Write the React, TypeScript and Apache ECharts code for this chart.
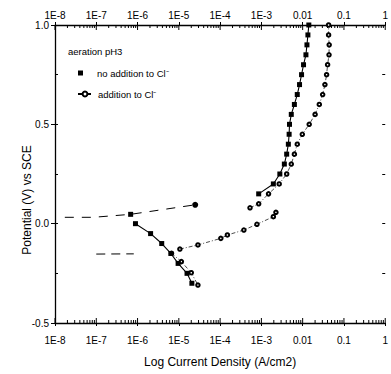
import React, { useEffect, useRef } from 'react';
import * as echarts from 'echarts';

// ---- texts / ticks ----
const xTickLabels = ['1E-8', '1E-7', '1E-6', '1E-5', '1E-4', '1E-3', '0.01', '0.1', '1'];
const yTickLabels: Record<string, string> = { '-0.5': '-0.5', '0': '0.0', '0.5': '0.5', '1': '1.0' };
const seriesNames = ['no addition to Cl⁻', 'addition to Cl⁻'];
const legendTitle = 'aeration pH3';
const xTitle = 'Log Current Density (A/cm2)';
const yTitle = 'Potential (V) vs SCE';

// ---- data: current density (A/cm2) and potential (V vs SCE) ----
// no addition to Cl- (filled squares)
const noAddAnodicI = [8.6e-4, 1.95e-3, 2.8e-3, 3.6e-3, 4.1e-3, 4.5e-3, 4.7e-3, 4.8e-3, 5.3e-3, 6.3e-3, 7.4e-3, 8.4e-3, 9.4e-3, 1.05e-2, 1.2e-2, 1.27e-2, 1.34e-2, 1.41e-2];
const noAddAnodicE = [0.15, 0.2, 0.25, 0.3, 0.35, 0.4, 0.45, 0.5, 0.55, 0.6, 0.65, 0.7, 0.75, 0.8, 0.85, 0.9, 0.95, 1.0];
const noAddCathodicI = [8.9e-7, 2.07e-6, 3.85e-6, 6.4e-6, 9.6e-6, 1.58e-5, 2.07e-5];
const noAddCathodicE = [0.0, -0.05, -0.1, -0.15, -0.2, -0.25, -0.3];
const noAddRestI = [1.73e-8, 8.5e-8, 6.8e-7, 2.49e-5];
const noAddRestE = [0.032, 0.032, 0.047, 0.095];

// addition to Cl- (open circles)
const addAnodicHighI = [5.3e-4, 8.6e-4, 1.49e-3, 2.7e-3, 4.1e-3, 5.3e-3, 6.3e-3, 7.4e-3, 9.8e-3, 1.44e-2, 2.0e-2, 2.53e-2, 3.05e-2, 3.46e-2, 3.8e-2, 4.02e-2, 4.35e-2, 4.39e-2, 4.25e-2, 4.25e-2];
const addAnodicHighE = [0.08, 0.1, 0.15, 0.2, 0.25, 0.3, 0.35, 0.4, 0.45, 0.5, 0.55, 0.6, 0.65, 0.7, 0.75, 0.8, 0.85, 0.9, 0.95, 1.0];
const addAnodicLowI = [1.06e-5, 2.9e-5, 1.04e-4, 1.5e-4, 3.76e-4, 7.8e-4, 1.95e-3, 2.25e-3];
const addAnodicLowE = [-0.128, -0.107, -0.074, -0.057, -0.032, -0.003, 0.035, 0.057];
const addCathodicI = [6.65e-6, 1.15e-5, 2.0e-5, 2.9e-5];
const addCathodicE = [-0.149, -0.191, -0.247, -0.309];
const addRestI = [1.0e-7, 8.1e-7];
const addRestE = [-0.153, -0.152];

const FONT = '"Liberation Sans", Arial, sans-serif';

const toPts = (I: number[], E: number[]) => I.map((v, k) => [Math.log10(v), E[k]]);

export default function App() {
  const ref = useRef<HTMLDivElement>(null);
  useEffect(() => {
    if (!ref.current) return;
    const chart = echarts.init(ref.current, undefined, { renderer: 'svg' });

    // log-axis tick decorations (positions inside each decade)
    const tickMarks: number[][] = [];
    for (let n = -8; n <= 0; n++) {
      tickMarks.push([n, 0, 5]);
      if (n < 0) for (let k = 2; k <= 9; k++) tickMarks.push([n + Math.log10(k), 0, 3]);
    }

    const blackLine = { color: '#000', width: 1.3 };
    const lineA = { color: '#000', width: 1.1 };
    const lineB = { color: '#000', width: 0.7, type: [4, 2, 1, 2] as any };
    const markB = { color: '#000', borderColor: '#000', borderWidth: 0.6 };

    const option: any = {
      animation: false,
      textStyle: { fontFamily: FONT, color: '#000' },
      grid: { left: 55, right: 0, top: 25, bottom: 51 },
      xAxis: [
        {
          type: 'value', position: 'bottom', min: -8, max: 0, interval: 1,
          axisLine: { show: true, onZero: false, lineStyle: blackLine },
          axisTick: { show: true, inside: false, length: 3, lineStyle: { color: '#000' } },
          axisLabel: { margin: 12, color: '#000', fontSize: 10, fontFamily: FONT, alignMaxLabel: 'center', formatter: (v: number) => xTickLabels[Math.round(v) + 8] },
          splitLine: { show: false },
          name: xTitle, nameLocation: 'middle', nameGap: 33,
          nameTextStyle: { fontSize: 12, color: '#000', fontFamily: FONT },
        },
        {
          type: 'value', position: 'top', min: -8, max: 0, interval: 1,
          axisLine: { show: true, onZero: false, lineStyle: blackLine },
          axisTick: { show: true, inside: false, length: 3, lineStyle: { color: '#000' } },
          axisLabel: { margin: 5, color: '#000', fontSize: 10, fontFamily: FONT, alignMaxLabel: 'center', formatter: (v: number) => xTickLabels[Math.round(v) + 8] },
          splitLine: { show: false },
        },
      ],
      yAxis: [
        {
          type: 'value', position: 'left', min: -0.5, max: 1, interval: 0.5,
          axisLine: { show: true, onZero: false, lineStyle: blackLine },
          axisTick: { show: true, inside: false, length: 4, lineStyle: { color: '#000' } },
          axisLabel: { margin: 6, color: '#000', fontSize: 10, fontFamily: FONT, formatter: (v: number) => yTickLabels[String(v)] ?? String(v) },
          splitLine: { show: false },
        },
        {
          type: 'value', position: 'right', min: -0.5, max: 1, interval: 0.25,
          axisLine: { show: false, onZero: false },
          axisTick: { show: true, inside: true, length: 3, lineStyle: { color: '#000' } },
          axisLabel: { show: false }, splitLine: { show: false },
        },
        {
          type: 'value', position: 'left', min: -0.5, max: 1, interval: 0.25,
          axisLine: { show: false, onZero: false },
          axisTick: { show: true, inside: true, length: 3, lineStyle: { color: '#000' } },
          axisLabel: { show: false }, splitLine: { show: false },
        },
      ],
      legend: [
        {
          data: [{ name: seriesNames[0], icon: 'rect' }],
          left: 78, top: 68, itemWidth: 5, itemHeight: 5, padding: 0,
          textStyle: { fontSize: 9.5, fontFamily: FONT, color: '#000', padding: [0, 0, 0, 9] },
        },
        {
          data: [seriesNames[1]],
          left: 77, top: 89, itemWidth: 14, itemHeight: 6, padding: 0,
          textStyle: { fontSize: 9.5, fontFamily: FONT, color: '#000', padding: [0, 0, 0, 1] },
        },
      ],
      graphic: [
        { type: 'text', left: 68, top: 46, style: { text: legendTitle, fontSize: 9.5, fontFamily: FONT, fill: '#000' } },
        { type: 'text', x: 27, y: 200, rotation: Math.PI / 2, style: { text: yTitle, fontSize: 12, fontFamily: FONT, fill: '#000', align: 'center', verticalAlign: 'middle' } },
      ],
      series: [
        {
          name: seriesNames[0], type: 'line', data: toPts(noAddAnodicI, noAddAnodicE),
          symbol: 'rect', symbolSize: 5, itemStyle: { color: '#000' }, lineStyle: lineA, z: 5,
        },
        {
          name: seriesNames[0], type: 'line', data: toPts(noAddCathodicI, noAddCathodicE),
          symbol: 'rect', symbolSize: 5, itemStyle: { color: '#000' }, lineStyle: lineA, z: 5,
        },
        {
          name: 'rest A', type: 'line',
          data: toPts(noAddRestI, noAddRestE).map((p, k) => ({
            value: p,
            symbol: k === 2 ? 'rect' : k === 3 ? 'circle' : 'none',
            symbolSize: k === 3 ? 6 : 5,
          })),
          itemStyle: { color: '#000' }, lineStyle: { color: '#000', width: 1, type: [9, 8] },
        },
        {
          name: seriesNames[1], type: 'line', data: toPts(addAnodicHighI, addAnodicHighE),
          symbol: 'emptyCircle', symbolSize: 3.5, itemStyle: markB, lineStyle: lineB,
        },
        {
          name: seriesNames[1], type: 'line', data: toPts(addAnodicLowI, addAnodicLowE),
          symbol: 'emptyCircle', symbolSize: 3.5, itemStyle: markB, lineStyle: lineB,
        },
        {
          name: seriesNames[1], type: 'line', data: toPts(addCathodicI, addCathodicE),
          symbol: 'emptyCircle', symbolSize: 3.5, itemStyle: markB, lineStyle: lineB,
        },
        {
          name: 'rest B', type: 'line', data: toPts(addRestI, addRestE), symbol: 'none',
          lineStyle: { color: '#000', width: 1, type: [9, 6] },
        },
        {
          name: 'log ticks', type: 'custom', xAxisIndex: 0, yAxisIndex: 0,
          data: tickMarks, encode: { x: 0, y: 1 }, silent: true, clip: false,
          renderItem: (params: any, api: any) => {
            const cs = params.coordSys;
            const px = api.coord([api.value(0), 0])[0];
            const len = api.value(2);
            const bottom = cs.y + cs.height;
            return {
              type: 'group',
              children: [
                { type: 'line', shape: { x1: px, y1: bottom, x2: px, y2: bottom - len }, style: { stroke: '#000', lineWidth: 1 } },
                { type: 'line', shape: { x1: px, y1: cs.y, x2: px, y2: cs.y + len }, style: { stroke: '#000', lineWidth: 1 } },
              ],
            };
          },
        },
      ],
    };
    chart.setOption(option);
    return () => chart.dispose();
  }, []);
  return <div ref={ref} style={{ position: 'fixed', left: 0, top: 0, width: 391, height: 374, background: '#fff' }} />;
}
